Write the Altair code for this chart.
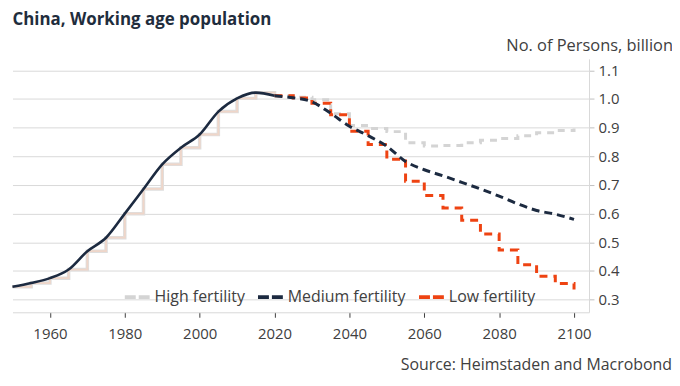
import altair as alt
import pandas as pd

years = list(range(1950, 2101, 5))
medium = [0.345, 0.358, 0.375, 0.405, 0.469, 0.516, 0.600, 0.686, 0.772, 0.830,
          0.876, 0.956, 1.002, 1.022, 1.011, 1.004, 0.990, 0.950, 0.905, 0.872,
          0.835, 0.782, 0.753, 0.732, 0.709, 0.686, 0.661, 0.634, 0.611, 0.598, 0.580]
fc_years = list(range(2020, 2101, 5))
high = [1.011, 1.006, 0.997, 0.948, 0.907, 0.897, 0.886, 0.847, 0.836, 0.838,
        0.847, 0.856, 0.862, 0.872, 0.882, 0.890, 0.897]
low = [1.011, 1.003, 0.985, 0.945, 0.887, 0.841, 0.790, 0.713, 0.663, 0.620,
       0.577, 0.529, 0.473, 0.422, 0.382, 0.356, 0.335]
series_names = ["High fertility", "Medium fertility", "Low fertility"]
series_colors = ["#d4d4d4", "#1c2a40", "#ee4312"]

hist = pd.DataFrame({"year": [y for y in years if y <= 2020],
                     "value": [v for y, v in zip(years, medium) if y <= 2020]})
rows = []
for y, v in zip(years, medium):
    if y >= 2020:
        rows.append({"year": y, "value": v, "series": "Medium fertility"})
for y, v in zip(fc_years, high):
    rows.append({"year": y, "value": v, "series": "High fertility"})
for y, v in zip(fc_years, low):
    rows.append({"year": y, "value": v, "series": "Low fertility"})
fc = pd.DataFrame(rows)

FONT = "Open Sans"
TXT = "#404040"
xenc = alt.X("year:Q", scale=alt.Scale(domain=[1950, 2104], nice=False, zero=False),
             axis=alt.Axis(values=list(range(1960, 2101, 20)), format="d", grid=False,
                           domainColor="#d9d9d9", tickColor=TXT, tickSize=5,
                           labelFontSize=15, labelColor=TXT, labelFont=FONT,
                           labelPadding=9,
                           title="Source: Heimstaden and Macrobond", titleFont=FONT,
                           titleFontSize=16, titleFontWeight="normal", titleColor=TXT,
                           titleAnchor="end", titleAlign="right", titleBaseline="middle",
                           titleX=663, titleY=53))
yenc = alt.Y("value:Q", scale=alt.Scale(domain=[0.256, 1.14], nice=False, zero=False),
             axis=alt.Axis(orient="right", values=[0.3, 0.4, 0.5, 0.6, 0.7, 0.8, 0.9, 1.0, 1.1],
                           format=".1f", grid=True, gridColor="#d9d9d9",
                           domainColor="#d9d9d9", tickColor="#bfbfbf", tickSize=5,
                           labelFontSize=15, labelColor=TXT, labelFont=FONT,
                           labelPadding=4,
                           title="No. of Persons, billion", titleFont=FONT, titleFontSize=16.5,
                           titleFontWeight="normal", titleColor=TXT, titleAngle=0,
                           titleAlign="right", titleBaseline="middle", titleAnchor="start",
                           titleX=84, titleY=-13))

color = alt.Color("series:N",
                  scale=alt.Scale(domain=series_names, range=series_colors),
                  sort=series_names,
                  legend=alt.Legend(title=None, orient="none", direction="horizontal",
                                    legendX=111, legendY=225, symbolType="stroke",
                                    symbolSize=625, symbolStrokeWidth=4,
                                    symbolDash=[11, 3], labelFont=FONT, labelFontSize=16,
                                    labelColor=TXT, labelOffset=3, columnPadding=5))

base_h = alt.Chart(hist)
hist_under = base_h.mark_line(interpolate="step-after", color="#dedede", strokeWidth=3.5).encode(x=xenc, y=yenc)
hist_over = base_h.mark_line(interpolate="step-after", color="#efd6c9", strokeWidth=1.8).encode(x=xenc, y=yenc)
med_hist = base_h.mark_line(interpolate="monotone", color="#1c2a40", strokeWidth=2.6).encode(x=xenc, y=yenc)

base_f = alt.Chart(fc)
high_l = base_f.transform_filter(alt.datum.series == "High fertility").mark_line(
    interpolate="step-after", strokeWidth=3, strokeDash=[7, 6]).encode(x=xenc, y=yenc, color=color)
low_l = base_f.transform_filter(alt.datum.series == "Low fertility").mark_line(
    interpolate="step-after", strokeWidth=3, strokeDash=[8, 6]).encode(x=xenc, y=yenc, color=color)
med_l = base_f.transform_filter(alt.datum.series == "Medium fertility").mark_line(
    interpolate="monotone", strokeWidth=3, strokeDash=[8, 5]).encode(x=xenc, y=yenc, color=color)

chart = alt.layer(hist_under, hist_over, high_l, low_l, med_hist, med_l).properties(
    width=580, height=255,
    autosize=alt.AutoSizeParams(type="none"),
    padding={"left": 4.5, "top": 50, "right": 83.5, "bottom": 63},
    title=alt.TitleParams("China, Working age population", anchor="start", font=FONT,
                          fontSize=17, fontWeight="bold", color="#1f2d3d", dx=7, dy=-5),
).configure_view(stroke=None).configure_axis(domainWidth=1)

chart.save("out.html", embed_options={"renderer": "svg", "actions": False})
